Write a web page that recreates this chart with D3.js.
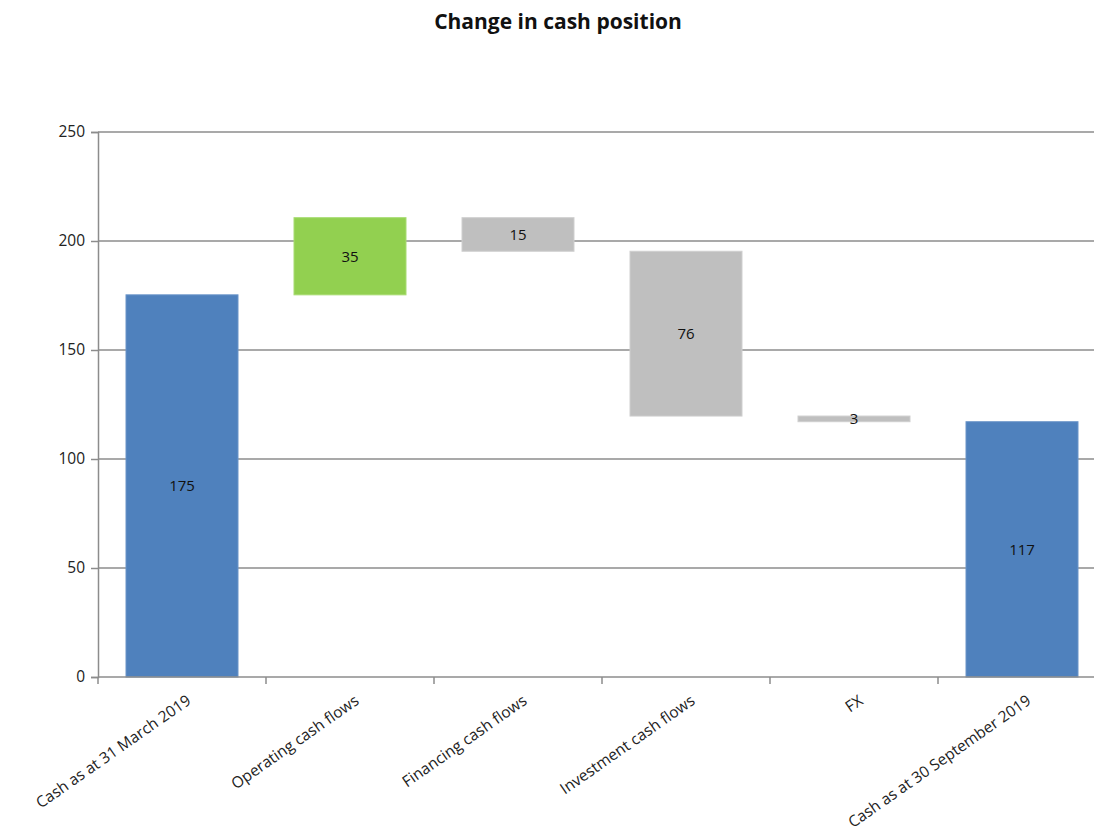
<!DOCTYPE html>
<html>
<head>
<meta charset="utf-8">
<script src="https://cdn.jsdelivr.net/npm/d3@7"></script>
<style>
  body { margin: 0; background: #fff; }
</style>
</head>
<body>
<script>
'use strict';

// chart data
const categories = ["Cash as at 31 March 2019", "Operating cash flows", "Financing cash flows",
  "Investment cash flows", "FX", "Cash as at 30 September 2019"];
const kinds = ["total", "delta", "delta", "delta", "delta", "total"];
const values = [175.3, 35.4, -15.4, -75.6, -2.6, 117.1];
const yTicks = [0, 50, 100, 150, 200, 250];

const width = 1094, height = 838;
const svg = d3.select('body').append('svg')
  .attr('width', width)
  .attr('height', height)
  .style('font-family', '"Open Sans", sans-serif');

// waterfall steps: [low, high] per bar
let running = 0;
const steps = values.map((v, i) => {
  let lo, hi;
  if (kinds[i] === 'total') {
    lo = 0; hi = v; running = v;
  } else {
    const next = running + v;
    lo = Math.min(running, next); hi = Math.max(running, next);
    running = next;
  }
  return { name: categories[i], kind: kinds[i], v: v, lo: lo, hi: hi };
});

const x = d3.scaleBand()
  .domain(categories)
  .range([98, 1106])
  .paddingInner(1 / 3)
  .paddingOuter(1 / 6);

const y = d3.scaleLinear()
  .domain([0, 250])
  .range([677, 132]);

// gridlines
svg.append('g')
  .selectAll('line')
  .data(yTicks.filter(d => d > 0))
  .enter()
  .append('line')
  .attr('x1', 98).attr('x2', 1106)
  .attr('y1', d => y(d)).attr('y2', d => y(d))
  .attr('stroke', '#8c8c8c')
  .attr('stroke-width', 1.5);

// bars
function barColor(d) {
  if (d.kind === 'total') return '#4f81bd';
  return d.v > 0 ? '#92d050' : '#bfbfbf';
}
function barStroke(d) {
  if (d.kind === 'total') return '#6a94c8';
  return d.v > 0 ? '#a8dc72' : '#cfcfcf';
}

svg.append('g')
  .selectAll('rect')
  .data(steps)
  .enter()
  .append('rect')
  .attr('x', d => x(d.name))
  .attr('width', x.bandwidth())
  .attr('y', d => y(d.hi))
  .attr('height', d => y(d.lo) - y(d.hi))
  .attr('fill', barColor)
  .attr('stroke', barStroke)
  .attr('stroke-width', 1);

// value labels
svg.append('g')
  .selectAll('text')
  .data(steps)
  .enter()
  .append('text')
  .attr('x', d => x(d.name) + x.bandwidth() / 2)
  .attr('y', d => (y(d.lo) + y(d.hi)) / 2)
  .attr('dy', '0.35em')
  .attr('text-anchor', 'middle')
  .style('font-size', '15px')
  .attr('fill', '#111')
  .text(d => Math.round(Math.abs(d.v)));

// y axis
const yAxis = d3.axisLeft(y).tickValues(yTicks).tickSize(7).tickPadding(6);
const gy = svg.append('g')
  .attr('transform', 'translate(98, 0)')
  .call(yAxis);
gy.select('.domain').attr('stroke', '#8c8c8c').attr('stroke-width', 1.5);
gy.selectAll('.tick line').attr('stroke', '#8c8c8c').attr('stroke-width', 1.5);
gy.selectAll('.tick text')
  .style('font-size', '15.5px')
  .style('font-family', '"Open Sans", sans-serif')
  .attr('fill', '#222');

// x axis
const gx = svg.append('g')
  .attr('transform', 'translate(0, 677)');
gx.append('line')
  .attr('x1', 98).attr('x2', 1106)
  .attr('stroke', '#8c8c8c').attr('stroke-width', 1.5);
const bandEdges = d3.range(categories.length + 1).map(i => 98 + i * x.step());
gx.selectAll('.xtick')
  .data(bandEdges)
  .enter()
  .append('line')
  .attr('x1', d => d).attr('x2', d => d)
  .attr('y1', 0).attr('y2', 7)
  .attr('stroke', '#8c8c8c').attr('stroke-width', 1.5);

gx.selectAll('.xlabel')
  .data(categories)
  .enter()
  .append('text')
  .attr('text-anchor', 'end')
  .attr('transform', d => 'translate(' + (x(d) + x.bandwidth() / 2 + 10) + ', 26) rotate(-35)')
  .style('font-size', '15.5px')
  .attr('fill', '#222')
  .text(d => d);

// title
svg.append('text')
  .attr('x', 558)
  .attr('y', 29)
  .attr('text-anchor', 'middle')
  .style('font-size', '21px')
  .style('font-weight', 'bold')
  .attr('fill', '#111')
  .text('Change in cash position');
</script>
</body>
</html>
